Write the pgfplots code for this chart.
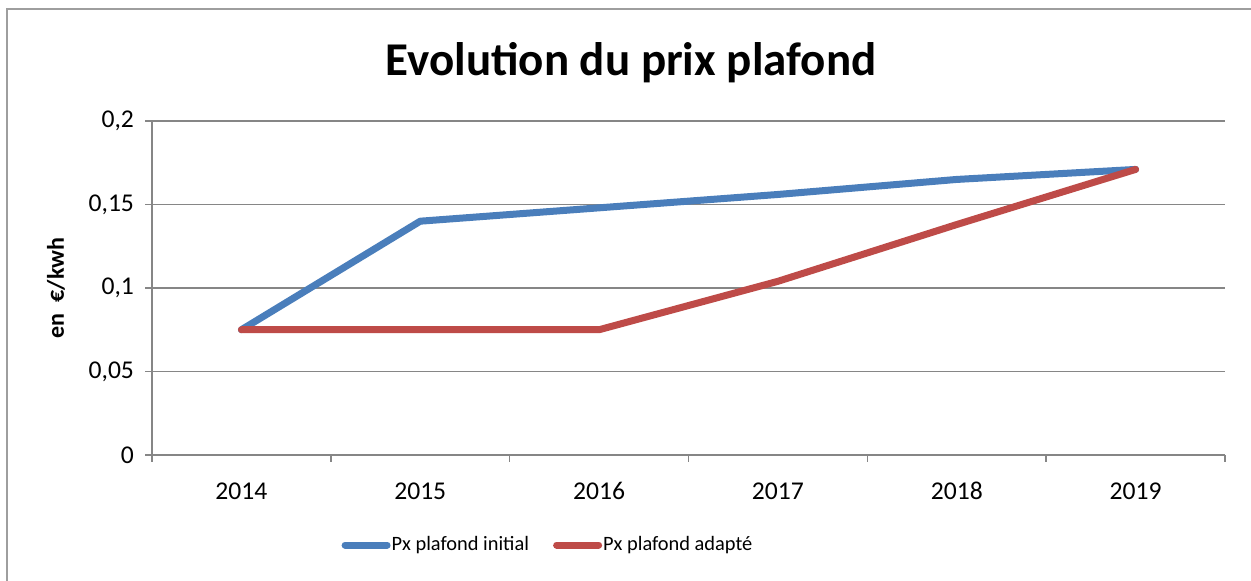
\documentclass[border=0pt]{standalone}
\usepackage{fontspec}
\setmainfont{Carlito}
\usepackage{pgfplots}
\pgfplotsset{compat=1.18}
\definecolor{pxInitial}{HTML}{4A7EBB}
\definecolor{pxAdapte}{HTML}{BE4B48}
\definecolor{gridGray}{HTML}{868686}

\begin{document}
\begin{tikzpicture}[x=0.5pt,y=0.5pt]
% page = 1251 x 581 px, 1 px = 0.5pt, y measured from the bottom
\path[use as bounding box] (0,0) rectangle (1251,581);
\draw[gridGray!80, line width=1.2pt] (7,-5) -- (7,572) -- (1260,572);

\begin{axis}[
  at={(76pt,63pt)}, anchor=south west,
  scale only axis, width=536.5pt, height=167pt,
  xmin=-0.5, xmax=5.5,
  ymin=0, ymax=0.2,
  axis x line*=bottom, axis y line*=left,
  axis line style={gridGray, line width=0.75pt, -},
  xtick={0,...,5},
  xticklabels={2014,2015,2016,2017,2018,2019},
  minor xtick={-0.5,0.5,...,5.5},
  major x tick style={draw=none},
  minor x tick style={gridGray, line width=0.75pt},
  minor tick length=3.5pt,
  ytick={0,0.05,0.1,0.15,0.2},
  yticklabels={0,{0,05},{0,1},{0,15},{0,2}},
  major y tick style={gridGray, line width=0.75pt},
  major tick length=3.5pt,
  tick align=outside,
  ymajorgrids,
  major grid style={gridGray, line width=0.75pt},
  tick label style={font=\fontsize{12.8}{14}\selectfont, black},
  xticklabel style={text height=9pt, text depth=0pt, yshift=-6pt},
  yticklabel style={xshift=-2pt},
  legend columns=2,
  legend style={
    at={(0.370,-0.2695)}, anchor=center,
    draw=none, fill=none,
    font=\fontsize{10.2}{12}\selectfont,
    /tikz/every even column/.append style={column sep=10pt},
    /tikz/every odd column/.append style={column sep=-1.5pt},
  },
  legend image code/.code={\draw[#1] (0pt,0pt) -- (21pt,0pt);},
  every axis plot/.append style={line width=3.5pt, line cap=round, line join=round},
]
\addplot[color=pxInitial] coordinates {
  (0, 0.075) (1, 0.140) (2, 0.148) (3, 0.156) (4, 0.165) (5, 0.171)
};
\addplot[color=pxAdapte] coordinates {
  (0, 0.075) (1, 0.075) (2, 0.075) (3, 0.104) (4, 0.138) (5, 0.171)
};
\legend{Px plafond initial, Px plafond adapté}
\end{axis}

\node[font=\fontsize{23.5}{28}\selectfont\bfseries] at (631,518) {Evolution du prix plafond};
\node[font=\fontsize{12}{14}\selectfont\bfseries, rotate=90] at (56,293) {en \ €/kwh};
\end{tikzpicture}
\end{document}
